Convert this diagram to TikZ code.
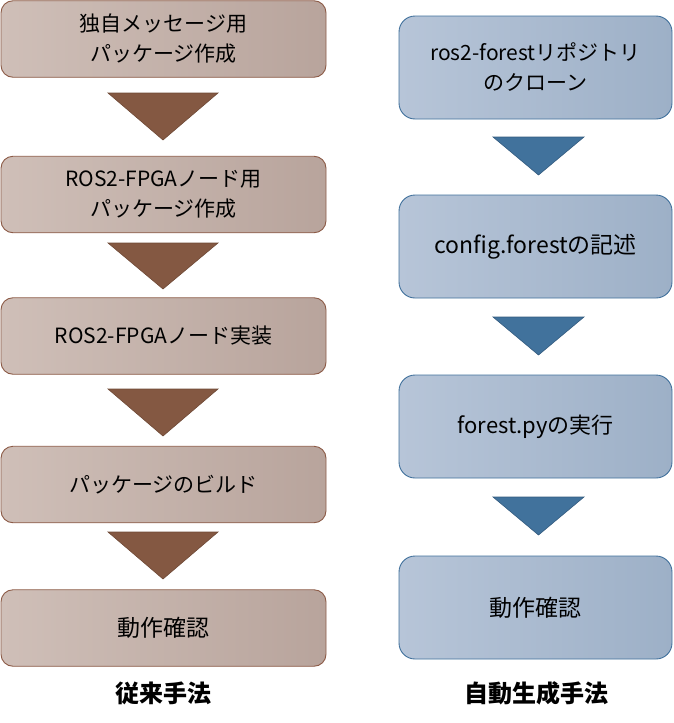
\documentclass[tikz,border=0pt]{standalone}
\usepackage{fontspec}
\setmainfont{Noto Sans CJK JP}
\usetikzlibrary{calc}
\definecolor{lfillA}{HTML}{CFBFB8}
\definecolor{lfillB}{HTML}{B8A49C}
\definecolor{ldraw}{HTML}{8C5B47}
\definecolor{ltri}{HTML}{845842}
\definecolor{ltridraw}{HTML}{6E4936}
\definecolor{rfillA}{HTML}{B7C5D8}
\definecolor{rfillB}{HTML}{9DB0C7}
\definecolor{rdraw}{HTML}{41719C}
\definecolor{rtri}{HTML}{41729C}
\definecolor{rtridraw}{HTML}{325A7E}
\tikzset{
  x=1pt, y=-1pt,
  lbox/.style={draw=ldraw, line width=0.9pt, rounded corners=12pt,
    left color=lfillA, right color=lfillB,
    minimum width=325pt, minimum height=76.5pt, align=center,
    font=\fontsize{21}{30}\selectfont, inner sep=0pt},
  rbox/.style={draw=rdraw, line width=0.9pt, rounded corners=16pt,
    left color=rfillA, right color=rfillB,
    minimum width=273pt, minimum height=103pt, align=center,
    font=\fontsize{21}{30}\selectfont, inner sep=0pt},
  bigtext/.style={font=\fontsize{23}{30}\selectfont},
  ltriangle/.style={fill=ltri, draw=ltridraw, line width=0.6pt, line join=miter},
  rtriangle/.style={fill=rtri, draw=rtridraw, line width=0.6pt, line join=miter},
  caption/.style={font=\fontsize{24}{28}\selectfont\bfseries, inner sep=0pt}
}
\begin{document}
\begin{tikzpicture}
\useasboundingbox (0,0) rectangle (673,723);
% left column
\node[lbox] (L1) at (163.5,39) {独自メッセージ用\\パッケージ作成};
\node[lbox] (L2) at (163.5,194.5) {ROS2-FPGAノード用\\パッケージ作成};
\node[lbox] (L3) at (163.5,336) {ROS2-FPGAノード実装};
\node[lbox] (L4) at (163.5,484.5) {パッケージのビルド};
\node[lbox, bigtext] (L5) at (163.5,628) {動作確認};
\path[ltriangle] (108,93) -- (218,93) -- (163,140) -- cycle;
\path[ltriangle] (108,243) -- (218,243) -- (163,289) -- cycle;
\path[ltriangle] (108,389) -- (218,389) -- (163,436) -- cycle;
\path[ltriangle] (108,532) -- (218,532) -- (163,579) -- cycle;
% right column
\node[rbox] (R1) at (535.5,67.5) {ros2-forestリポジトリ\\のクローン};
\node[rbox, font=\fontsize{23}{30}\selectfont] (R2) at (535.5,246.5) {config.forestの記述};
\node[rbox, font=\fontsize{22}{30}\selectfont] (R3) at (535.5,426.5) {forest.pyの実行};
\node[rbox, bigtext] (R4) at (535.5,607.5) {動作確認};
\path[rtriangle] (493,137) -- (584,137) -- (538.5,175) -- cycle;
\path[rtriangle] (493,317) -- (584,317) -- (538.5,355) -- cycle;
\path[rtriangle] (493,497) -- (584,497) -- (538.5,535) -- cycle;
% captions
\node[caption] (C1) at (163,693) {従来手法};
\node[caption] (C2) at (536,693) {自動生成手法};
\end{tikzpicture}
\end{document}
